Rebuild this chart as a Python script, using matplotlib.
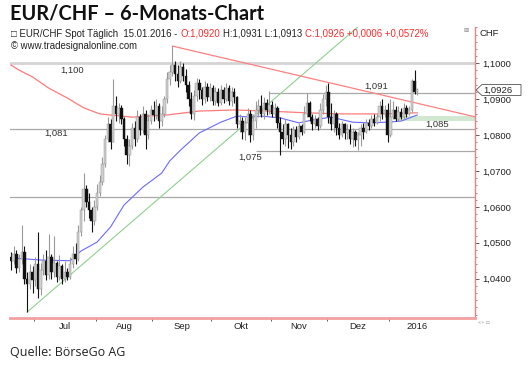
import pandas as pd
import matplotlib
matplotlib.use('Agg')
import matplotlib.pyplot as plt
from matplotlib.patches import Polygon, Rectangle
from matplotlib.ticker import FixedLocator, FuncFormatter, MultipleLocator, NullFormatter

W, H = 531, 369

# daily bars EUR/CHF (open = previous close)
dates = pd.bdate_range('2015-06-18', '2016-01-15')
first_open = 1.0460
close = [1.0450, 1.0470, 1.0430, 1.0455, 1.0475, 1.0400, 1.0385, 1.0420, 1.0395, 1.0440,
         1.0370, 1.0425, 1.0450, 1.0410, 1.0460, 1.0420, 1.0445, 1.0405, 1.0435, 1.0400,
         1.0420, 1.0405, 1.0440, 1.0470, 1.0455, 1.0530, 1.0590, 1.0650, 1.0615, 1.0590,
         1.0560, 1.0600, 1.0640, 1.0670, 1.0720, 1.0790, 1.0830, 1.0780, 1.0880, 1.0860,
         1.0875, 1.0845, 1.0790, 1.0745, 1.0770, 1.0820, 1.0790, 1.0850, 1.0815, 1.0860,
         1.0800, 1.0840, 1.0870, 1.0855, 1.0880, 1.0840, 1.0860, 1.0900, 1.0955, 1.0975,
         1.0995, 1.0970, 1.0950, 1.0990, 1.0965, 1.0940, 1.0900, 1.0860, 1.0910, 1.0945,
         1.0925, 1.0900, 1.0935, 1.0905, 1.0930, 1.0895, 1.0920, 1.0890, 1.0925, 1.0900,
         1.0930, 1.0895, 1.0920, 1.0905, 1.0830, 1.0840, 1.0810, 1.0835, 1.0860, 1.0800,
         1.0840, 1.0870, 1.0880, 1.0860, 1.0890, 1.0870, 1.0885, 1.0860, 1.0875, 1.0835,
         1.0810, 1.0790, 1.0830, 1.0800, 1.0780, 1.0815, 1.0795, 1.0825, 1.0810, 1.0860,
         1.0890, 1.0850, 1.0830, 1.0845, 1.0825, 1.0870, 1.0900, 1.0920, 1.0850, 1.0830,
         1.0860, 1.0820, 1.0800, 1.0830, 1.0805, 1.0815, 1.0790, 1.0810, 1.0785, 1.0800,
         1.0820, 1.0810, 1.0835, 1.0825, 1.0845, 1.0835, 1.0850, 1.0880, 1.0860, 1.0870,
         1.0800, 1.0850, 1.0870, 1.0845, 1.0865, 1.0850, 1.0875, 1.0860, 1.0870, 1.0950,
         1.0920, 1.0926]
high = [1.0475, 1.0490, 1.0480, 1.0470, 1.0550, 1.0490, 1.0420, 1.0440, 1.0435, 1.0460,
        1.0530, 1.0445, 1.0470, 1.0480, 1.0525, 1.0470, 1.0520, 1.0450, 1.0465, 1.0440,
        1.0450, 1.0430, 1.0460, 1.0490, 1.0500, 1.0550, 1.0600, 1.0695, 1.0660, 1.0640,
        1.0600, 1.0620, 1.0665, 1.0690, 1.0740, 1.0800, 1.0850, 1.0845, 1.0955, 1.0910,
        1.0890, 1.0885, 1.0850, 1.0800, 1.0790, 1.0835, 1.0840, 1.0870, 1.0860, 1.0880,
        1.0870, 1.0860, 1.0885, 1.0895, 1.0900, 1.0890, 1.0880, 1.0910, 1.0975, 1.0995,
        1.1048, 1.1005, 1.0995, 1.1005, 1.1000, 1.0985, 1.0950, 1.0920, 1.0925, 1.0960,
        1.0955, 1.0935, 1.0950, 1.0945, 1.0945, 1.0940, 1.0935, 1.0930, 1.0940, 1.0935,
        1.0945, 1.0940, 1.0935, 1.0930, 1.0910, 1.0860, 1.0850, 1.0850, 1.0875, 1.0870,
        1.0860, 1.0895, 1.0900, 1.0912, 1.0905, 1.0900, 1.0922, 1.0895, 1.0890, 1.0880,
        1.0850, 1.0830, 1.0845, 1.0835, 1.0820, 1.0825, 1.0825, 1.0835, 1.0830, 1.0880,
        1.0918, 1.0895, 1.0860, 1.0855, 1.0850, 1.0890, 1.0915, 1.0940, 1.0945, 1.0890,
        1.0870, 1.0865, 1.0835, 1.0840, 1.0835, 1.0830, 1.0830, 1.0820, 1.0815, 1.0810,
        1.0830, 1.0835, 1.0845, 1.0845, 1.0855, 1.0858, 1.0860, 1.0895, 1.0900, 1.0885,
        1.0890, 1.0900, 1.0895, 1.0880, 1.0880, 1.0875, 1.0890, 1.0885, 1.0880, 1.0955,
        1.0980, 1.0931]
low = [1.0425, 1.0440, 1.0415, 1.0420, 1.0440, 1.0385, 1.0307, 1.0370, 1.0360, 1.0380,
       1.0345, 1.0355, 1.0410, 1.0395, 1.0400, 1.0400, 1.0405, 1.0390, 1.0395, 1.0385,
       1.0392, 1.0395, 1.0400, 1.0430, 1.0440, 1.0450, 1.0520, 1.0560, 1.0600, 1.0570,
       1.0530, 1.0550, 1.0590, 1.0630, 1.0660, 1.0710, 1.0780, 1.0760, 1.0780, 1.0840,
       1.0835, 1.0830, 1.0770, 1.0720, 1.0715, 1.0760, 1.0770, 1.0780, 1.0800, 1.0805,
       1.0760, 1.0790, 1.0830, 1.0840, 1.0845, 1.0820, 1.0825, 1.0850, 1.0890, 1.0940,
       1.0965, 1.0950, 1.0935, 1.0945, 1.0950, 1.0920, 1.0880, 1.0845, 1.0843, 1.0895,
       1.0900, 1.0885, 1.0890, 1.0895, 1.0895, 1.0885, 1.0885, 1.0880, 1.0885, 1.0890,
       1.0895, 1.0885, 1.0880, 1.0890, 1.0820, 1.0810, 1.0790, 1.0786, 1.0800, 1.0780,
       1.0785, 1.0820, 1.0850, 1.0850, 1.0845, 1.0855, 1.0860, 1.0850, 1.0850, 1.0820,
       1.0745, 1.0775, 1.0770, 1.0765, 1.0760, 1.0770, 1.0780, 1.0790, 1.0800, 1.0805,
       1.0850, 1.0840, 1.0815, 1.0820, 1.0815, 1.0820, 1.0860, 1.0880, 1.0835, 1.0815,
       1.0810, 1.0800, 1.0790, 1.0795, 1.0790, 1.0790, 1.0775, 1.0767, 1.0770, 1.0758,
       1.0770, 1.0790, 1.0805, 1.0815, 1.0820, 1.0825, 1.0830, 1.0840, 1.0845, 1.0850,
       1.0780, 1.0795, 1.0845, 1.0840, 1.0840, 1.0845, 1.0845, 1.0850, 1.0855, 1.0865,
       1.0915, 1.0913]

# moving averages read at a few bars
ma_red_idx = [0, 3, 8, 14, 21, 27, 33, 45, 58, 70, 83, 95, 110, 123, 137, 151]
ma_red_val = [1.0995, 1.0981, 1.0962, 1.0931, 1.0903, 1.0876, 1.0859, 1.0850, 1.0856,
              1.0867, 1.0870, 1.0867, 1.0862, 1.0859, 1.0859, 1.0862]
ma_blue_idx = [0, 11, 22, 26, 32, 37, 42, 49, 56, 59, 63, 70, 78, 84, 89, 93, 100, 107,
               112, 119, 127, 133, 140, 145, 151]
ma_blue_val = [1.0458, 1.0452, 1.0450, 1.0477, 1.0502, 1.0544, 1.0605, 1.0655, 1.0694,
               1.0728, 1.0758, 1.0806, 1.0836, 1.0853, 1.0850, 1.0853, 1.0848, 1.0834,
               1.0842, 1.0850, 1.0836, 1.0834, 1.0836, 1.0839, 1.0856]

# trend lines (two anchor bars each)
green_idx = [6, 110]
green_val = [1.0307, 1.0979]
red_idx = [60, 172.5]
red_val = [1.1048, 1.0851]

# horizontal levels: value, first bar, label, label bar, label value
levels = [(1.1000, -1, '1,100', 22.7, 1.0981),
          (1.0916, 96, '1,091', 135.7, 1.0937),
          (1.0816, -1, '1,081', 16.7, 1.0806),
          (1.0757, 91, '1,075', 88.8, 1.0738),
          (1.0628, -1, '', 0, 0)]
band = (1.0840, 1.0853, 143, '1,085', 158.4, 1.0831)

month_labels = ['Jul', 'Aug', 'Sep', 'Okt', 'Nov', 'Dez', '2016']

fig = plt.figure(figsize=(W / 100, H / 100), dpi=100)
ax = fig.add_axes([10 / W, 1 - 318 / H, 465 / W, 291 / H])
ax.set_xlim(-1 / 2.69, 464 / 2.69)
ax.set_ylim(1.02905, 1.11011)

sans = ['Liberation Sans', 'DejaVu Sans']

# levels
for val, start, lab, lx, ly in levels:
    if val == 1.1000:
        ax.hlines(val, start, 175, color='#d4d4d4', lw=2.0, zorder=1)
    else:
        ax.hlines(val, start, 175, color='#a8a8a8', lw=0.9, zorder=1)
    if lab:
        ax.text(lx, ly, lab, ha='center', va='center', fontsize=6.8, color='#333333',
                family=sans, zorder=6)
ax.add_patch(Rectangle((band[2], band[0]), 40, band[1] - band[0], fc='#cfe8cf', ec='none', zorder=1))
ax.text(band[4], band[5], band[3], ha='center', va='center', fontsize=6.8, color='#333333',
        family=sans, zorder=6)

# moving averages and trend lines
ax.plot(ma_red_idx, ma_red_val, color='#ff7a7a', lw=0.9, zorder=3)
ax.plot(ma_blue_idx, ma_blue_val, color='#6a6aff', lw=0.8, zorder=3)
gs = (green_val[1] - green_val[0]) / (green_idx[1] - green_idx[0])
ax.plot([green_idx[0], 175], [green_val[0], green_val[0] + gs * (175 - green_idx[0])],
        color='#8fd08f', lw=0.8, zorder=3)
ax.plot(red_idx, red_val, color='#ff8080', lw=0.9, zorder=3)

# candles
opens = [first_open] + close[:-1]
for i in range(len(close)):
    up = close[i] >= opens[i]
    wick = '#9a9a9a' if up else '#111111'
    body = '#cfcfcf' if up else '#111111'
    ax.vlines(i, low[i], high[i], color=wick, lw=0.8, zorder=4)
    lo, hi = min(opens[i], close[i]), max(opens[i], close[i])
    ax.add_patch(Rectangle((i - 0.45, lo), 0.9, max(hi - lo, 0.00012), fc=body,
                           ec='#8a8a8a' if up else body, lw=0.3, zorder=5))

# axes styling
for s in ['left', 'top']:
    ax.spines[s].set_visible(False)
ax.spines['right'].set_color('#f08080')
ax.spines['bottom'].set_color('#f4a0a0')
ax.spines['right'].set_linewidth(1.0)
ax.spines['bottom'].set_linewidth(2.0)

ax.yaxis.tick_right()
ax.yaxis.set_major_locator(FixedLocator([1.04, 1.05, 1.06, 1.07, 1.08, 1.09, 1.10]))
ax.yaxis.set_minor_locator(MultipleLocator(0.002))
ax.yaxis.set_major_formatter(FuncFormatter(lambda v, p: f'{v:.4f}'.replace('.', ',')))
ax.tick_params(axis='y', which='major', length=3, width=0.6, color='#444444', pad=2,
               labelsize=6.8, labelcolor='#222222')
ax.tick_params(axis='y', which='minor', length=1.5, width=0.5, color='#666666')

month_start = [i for i in range(1, len(dates)) if dates[i].month != dates[i - 1].month]
bounds = [m - 0.5 for m in month_start]
centers = [(a + b) / 2 for a, b in zip(bounds, bounds[1:] + [bounds[-1] + 21])]
ax.xaxis.set_major_locator(FixedLocator(bounds))
ax.xaxis.set_major_formatter(NullFormatter())
ax.xaxis.set_minor_locator(FixedLocator(centers))
ax.xaxis.set_minor_formatter(FuncFormatter(lambda v, p: month_labels[p] if p < len(month_labels) else ''))
ax.tick_params(axis='x', which='major', length=2.5, width=0.6, color='#444444')
ax.tick_params(axis='x', which='minor', length=0, pad=3, labelsize=6.8, labelcolor='#222222')
for t in ax.get_yticklabels() + ax.get_xticklabels(minor=True):
    t.set_family(sans)

# header
fig.text(10 / W, 1 - 14 / H, 'EUR/CHF – 6-Monats-Chart', fontsize=14.4, fontweight='bold',
         family=['Lato', 'DejaVu Sans'], va='center', ha='left', color='#111111')
r = fig.canvas.get_renderer()
x = 11
parts = [('□ EUR/CHF Spot Täglich  15.01.2016 -', '#222222'), ('O:1,0920', '#ff2a2a'),
         ('H:1,0931 L:1,0913', '#222222'), ('C:1,0926 +0,0006 +0,0572%', '#ff2a2a')]
for s, c in parts:
    t = fig.text(x / W, 1 - 34 / H, s, fontsize=6.9, color=c, family=sans, va='center')
    x += t.get_window_extent(renderer=r).width + 3
fig.text(11 / W, 1 - 46 / H, '© www.tradesignalonline.com', fontsize=6.9, color='#222222',
         family=sans, va='center')
fig.text(466 / W, 1 - 31 / H, '⊠', fontsize=4.5, color='#888888', family=['DejaVu Sans'],
         ha='center', va='center')
fig.text(479 / W, 1 - 34 / H, 'CHF', fontsize=6.8, color='#222222', family=sans, va='center')
fig.text(478 / W, 1 - 323 / H, '«» ▭', fontsize=3.5, color='#999999', family=['DejaVu Sans'],
         va='center')

# current price marker
pts = [(476, 90), (482, 84.5), (521, 84.5), (521, 95.5), (482, 95.5)]
fig.patches.append(Polygon([(px / W, 1 - py / H) for px, py in pts], closed=True,
                           transform=fig.transFigure, fc='white', ec='#555555', lw=0.6, zorder=5))
fig.text(483 / W, 1 - 90 / H, '1,0926', fontsize=6.8, color='#222222', family=sans,
         va='center', zorder=6)

fig.text(10 / W, 1 - 353 / H, 'Quelle: BörseGo AG', fontsize=9, color='#222222',
         family=['Open Sans', 'DejaVu Sans'], va='center')

fig.savefig('out.png', dpi=100)
